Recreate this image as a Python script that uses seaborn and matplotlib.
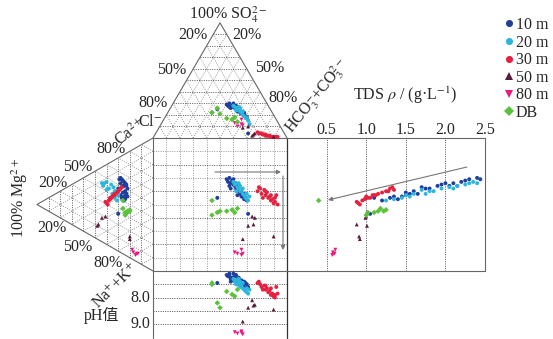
import numpy as np
import pandas as pd
import matplotlib
matplotlib.use("Agg")
import matplotlib.pyplot as plt
import seaborn as sns

# ---------------- data ----------------
groups = ["10 m", "20 m", "30 m", "50 m", "80 m", "DB"]

# anion meq% : SO4 and HCO3+CO3 (Cl is the remainder)
SO4 = {
    "10 m": [29, 28, 30, 27, 28, 27, 26, 25, 25, 24, 22, 23, 21, 20, 19, 18, 28, 26, 25, 4, 30, 26, 21, 22, 23, 27],
    "20 m": [28, 27, 26, 25, 24, 23, 22, 20, 19, 18, 17, 15, 12, 26, 24, 23, 17, 27],
    "30 m": [5, 4, 4, 3, 3, 2, 2, 2, 1, 1, 1, 1, 1, 3, 1, 4, 2, 1, 1],
    "50 m": [2, 4, 10, 3, 9, 1],
    "80 m": [13, 10, 16, 11, 12],
    "DB": [22, 26, 21, 17, 16, 18, 14, 22],
}
HCO3 = {
    "10 m": [40.5, 42, 42, 44.5, 45, 46.5, 48, 49.5, 50.5, 52, 54, 54.5, 56.5, 58, 59.5, 61, 48, 45, 35.5, 69, 45, 51, 55.5, 57, 51.5, 43.5],
    "20 m": [46, 47.5, 49, 50.5, 52, 53.5, 55, 57, 58.5, 60, 61.5, 63.5, 66, 52, 50, 55.5, 61.5, 50.5],
    "30 m": [75.5, 78, 79, 81.5, 82.5, 84, 85, 86, 87.5, 88.5, 89.5, 90.5, 91.5, 80.5, 92.5, 77, 83, 87.5, 90.5],
    "50 m": [73, 74, 66, 73.5, 62.5, 89.5],
    "80 m": [54.5, 58, 58, 61.5, 60],
    "DB": [33, 35, 39.5, 46.5, 51, 52, 56, 33],
}
# cation meq% : Mg and Ca (Na+K is the remainder)
MG = {
    "10 m": [27, 25, 28, 24, 26, 23, 25, 22, 27, 24, 23, 26, 22, 24, 27, 25, 28, 30, 24, 30, 29, 26, 25, 23, 28, 23],
    "20 m": [40, 36, 42, 34, 38, 32, 40, 35, 30, 33, 37, 31, 35, 43, 33, 39, 34, 44],
    "30 m": [30, 28, 33, 29, 34, 31, 36, 35, 38, 37, 40, 41, 33, 37, 39, 27, 30, 34, 36],
    "50 m": [41, 44, 48, 47, 20, 20],
    "80 m": [17, 14, 18, 13, 15],
    "DB": [24, 22, 20, 22, 20, 24, 26, 26],
}
CA = {
    "10 m": [55.5, 54.5, 56, 54, 55, 53.5, 51.5, 51, 49.5, 48, 46.5, 46, 45, 42, 41.5, 40.5, 52, 47, 43, 28, 54.5, 51, 43.5, 46.5, 43, 52.5],
    "20 m": [47, 47, 45, 46, 43, 44, 41, 40.5, 42, 38.5, 35.5, 37.5, 38.5, 42.5, 43.5, 42.5, 41, 44],
    "30 m": [45, 48, 41.5, 46.5, 40, 43.5, 37, 38.5, 34, 35.5, 31, 31.5, 40.5, 36.5, 30.5, 49.5, 45, 40, 37],
    "50 m": [20.5, 18, 10, 11.5, 14, 16],
    "80 m": [5.5, 6, 7, 6.5, 4.5],
    "DB": [30, 33, 35, 34, 36, 32, 34, 40],
}
TDS = {
    "10 m": [2.30, 2.20, 2.40, 2.10, 2.25, 1.95, 1.90, 1.80, 1.70, 1.60, 1.55, 1.50, 1.45, 1.40, 1.30, 1.20, 2.00, 1.75, 1.10, 1.05, 2.44, 2.05, 1.35, 1.65, 1.50, 2.15],
    "20 m": [2.35, 2.25, 2.30, 2.05, 1.95, 1.80, 1.70, 1.60, 1.50, 1.45, 1.35, 1.25, 1.55, 2.15, 1.85, 2.10, 1.75, 2.40],
    "30 m": [1.25, 1.30, 1.15, 1.35, 1.10, 1.20, 1.05, 1.00, 0.95, 0.98, 0.90, 0.88, 1.12, 1.02, 0.92, 1.33, 1.28, 1.08, 1.00],
    "50 m": [1.00, 0.99, 1.01, 0.88, 0.92, 0.91],
    "80 m": [0.58, 0.60, 0.61, 0.59, 0.57],
    "DB": [1.00, 1.02, 1.15, 1.22, 1.25, 1.10, 1.18, 0.40],
}
PH = {
    "10 m": [7.15, 7.20, 7.10, 7.30, 7.25, 7.35, 7.20, 7.40, 7.30, 7.45, 7.50, 7.35, 7.55, 7.60, 7.45, 7.50, 7.15, 7.40, 7.45, 7.60, 7.10, 7.25, 7.55, 7.40, 7.50, 7.20],
    "20 m": [7.30, 7.40, 7.35, 7.50, 7.45, 7.60, 7.55, 7.65, 7.70, 7.75, 7.80, 7.85, 7.70, 7.40, 7.50, 7.45, 7.65, 7.30],
    "30 m": [7.45, 7.50, 7.60, 7.55, 7.70, 7.65, 7.80, 7.75, 7.90, 7.85, 7.95, 8.00, 7.60, 7.70, 7.85, 7.40, 7.55, 7.65, 7.90],
    "50 m": [8.10, 8.27, 8.38, 8.30, 8.90, 8.45],
    "80 m": [9.30, 9.35, 9.27, 9.38, 9.32],
    "DB": [7.50, 8.20, 8.38, 7.77, 7.88, 7.95, 7.70, 7.45],
}
tds_ticks = [0.5, 1.0, 1.5, 2.0, 2.5]
ph_ticks = [8.0, 9.0]
ph_lines = [7.5, 8.0, 8.5, 9.0]

palette = {"10 m": "#1f3f9c", "20 m": "#2cb6de", "30 m": "#e6213f",
           "50 m": "#5b1b3c", "80 m": "#e8197f", "DB": "#5cc23c"}
markers = {"10 m": "o", "20 m": "o", "30 m": "o", "50 m": "^", "80 m": "v", "DB": "D"}

# ---------------- layout ----------------
R3 = np.sqrt(3) / 2
TDS_W = 1.478          # width of TDS panel in square units
TDS_MAX = 2.5
PH0, PH_PER = 7.0, 0.2  # pH panel: pH 7 at top, 0.2 unit per pH


def tds_x(t):
    return 1 + np.asarray(t) * TDS_W / TDS_MAX


def ph_y(p):
    return -(np.asarray(p) - PH0) * PH_PER


def P(x, y):
    """pixel -> data coordinates (for text/arrow layout)."""
    return (x - 153) / 134.0, (271 - y) / 133.0


rows = []
for g in groups:
    so4 = np.array(SO4[g]) / 100
    hco3 = np.array(HCO3[g]) / 100
    mg = np.array(MG[g]) / 100
    ca = np.array(CA[g]) / 100
    X = hco3 + so4 / 2
    Y = ca + mg / 2
    for xs, ys in [(X, 1 + R3 * so4), (-R3 * mg, Y), (X, Y),
                   (tds_x(TDS[g]), Y), (X, ph_y(PH[g]))]:
        for a, b in zip(xs, ys):
            rows.append({"x": a, "y": b, "group": g})
df = pd.DataFrame(rows)

sns.set_theme(style="white")
plt.rcParams["font.family"] = ["Liberation Serif", "Noto Sans CJK SC", "DejaVu Sans"]
plt.rcParams["mathtext.fontset"] = "stix"

fig = plt.figure(figsize=(5.53, 3.39), dpi=100)
ax = fig.add_axes([0, 0, 1, 1])
ax.set_xlim(-153 / 134.0, 400 / 134.0)
ax.set_ylim(-68 / 133.0, 271 / 133.0)
ax.axis("off")

edge = "#666666"
gdark = "#444444"
glight = "#8a8a8a"
dot = dict(ls=(0, (1.2, 1.6)), lw=0.6)

# top (anion) triangle grid
for k in range(1, 10):
    f = k / 10
    ax.plot([0.5 * f, 1 - 0.5 * f], [1 + R3 * f] * 2, color=gdark, **dot)
    ax.plot([f, f + 0.5 * (1 - f)], [1, 1 + R3 * (1 - f)], color=glight, **dot)
    ax.plot([1 - f, 0.5 * (1 - f)], [1, 1 + R3 * (1 - f)], color=glight, **dot)
ax.plot([0, 0.5, 1], [1, 1 + R3, 1], color=edge, lw=0.8)

# left (cation) triangle grid
for k in range(1, 10):
    f = k / 10
    ax.plot([-R3 * f] * 2, [0.5 * f, 1 - 0.5 * f], color=gdark, **dot)
    ax.plot([0, -R3 * (1 - f)], [f, f + 0.5 * (1 - f)], color=glight, **dot)
    ax.plot([0, -R3 * (1 - f)], [1 - f, 0.5 * (1 - f)], color=glight, **dot)
ax.plot([0, -R3, 0], [1, 0.5, 0], color=edge, lw=0.8)

# square grid
for k in range(1, 10):
    f = k / 10
    ax.plot([f, f], [0, 1], color=glight, **dot)
    ax.plot([0, 1], [f, f], color=gdark if k % 2 == 0 else glight, **dot)

# pH panel lines
for p in ph_lines:
    ax.plot([0, 1], [ph_y(p)] * 2, color="#333333", **dot)
# TDS panel lines
for t in tds_ticks[:-1]:
    ax.plot([tds_x(t)] * 2, [0, 1], color="#333333", **dot)

# frames
ybot = ph_y(9.5)
ax.plot([0, 0], [ybot, 1], color=edge, lw=0.8)
ax.plot([1, 1], [ybot, 1], color="#333333", lw=0.9)
ax.plot([0, tds_x(TDS_MAX)], [1, 1], color=edge, lw=0.8)
ax.plot([0, tds_x(TDS_MAX)], [0, 0], color=edge, lw=0.8)
ax.plot([tds_x(TDS_MAX)] * 2, [0, 1], color=edge, lw=0.8)

# points
sns.scatterplot(data=df, x="x", y="y", hue="group", style="group",
                hue_order=groups, style_order=groups, palette=palette,
                markers=markers, s=8, linewidth=0, ax=ax, zorder=5)

# arrows
ap = dict(arrowstyle="-|>", color="#777777", lw=0.8, mutation_scale=6,
          shrinkA=0, shrinkB=0)
ax.annotate("", xy=P(281, 172), xytext=P(215, 172), arrowprops=ap)
ax.annotate("", xy=P(283, 250), xytext=P(283, 176), arrowprops=ap)
ax.annotate("", xy=P(328, 200), xytext=P(467, 167), arrowprops=ap)

# texts
fs = 11.5
def T(px, py, s, rot=0, size=fs):
    x, y = P(px, py)
    ax.text(x, y, s, ha="center", va="center", rotation=rot, fontsize=size,
            rotation_mode="anchor")

T(228, 15, "100% SO$_4^{2-}$")
T(193, 35, "20%"); T(247, 35, "20%")
T(172, 70, "50%"); T(270, 68, "50%")
T(153, 103, "80%"); T(283, 98, "80%")
T(150, 122, "Cl$^{-}$")
T(131, 132, "Ca$^{2+}$", rot=38)
T(111, 149, "80%"); T(78, 167, "50%"); T(53, 183, "20%")
T(52, 228, "20%"); T(78, 247, "50%"); T(108, 263, "80%")
T(20, 198, "100% Mg$^{2+}$", rot=90)
T(116, 287, "Na$^{+}$+K$^{+}$", rot=45)
T(102, 315, "pH值")
T(317, 96, "HCO$_3^{-}$+CO$_3^{2-}$", rot=51)
T(405, 95, "TDS $\\rho$ / (g·L$^{-1}$)")

for t in tds_ticks:
    ax.text(tds_x(t), P(0, 130)[1], f"{t:.1f}", ha="center", va="center", fontsize=fs)
for p in ph_ticks:
    ax.text(P(140, 0)[0], ph_y(p), f"{p:.1f}", ha="center", va="center", fontsize=fs)

# legend
h, l = ax.get_legend_handles_labels()
leg = ax.legend(h, l, loc="upper left", bbox_to_anchor=(503 / 553, 1 - 17 / 339),
                frameon=False, fontsize=11.5, handletextpad=0.1, labelspacing=0.1,
                markerscale=1.8, handlelength=0.7, borderpad=0, borderaxespad=0)

fig.savefig("out.png", dpi=100)
